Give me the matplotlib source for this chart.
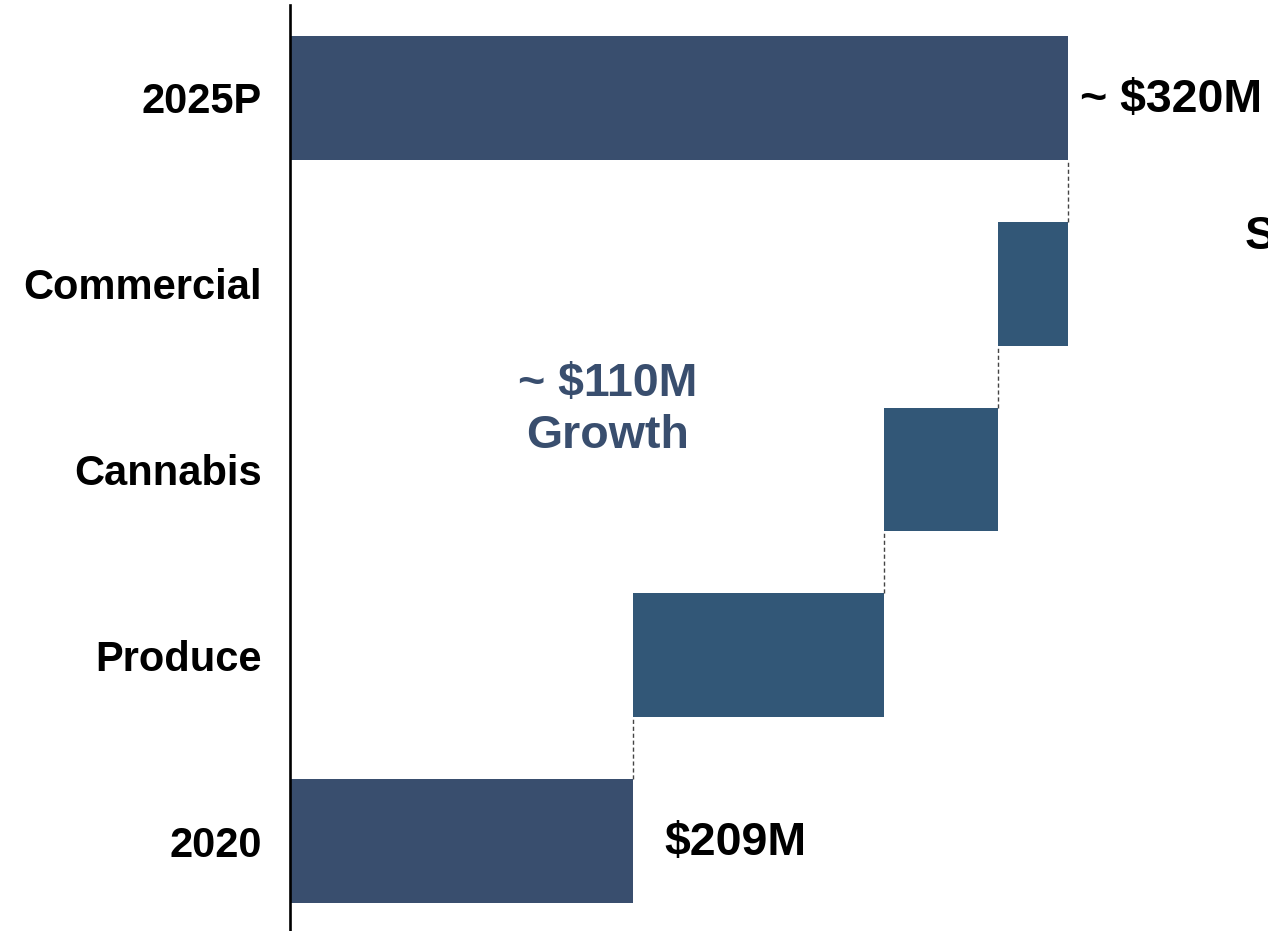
import matplotlib
matplotlib.use("Agg")
import matplotlib.pyplot as plt

plt.rcParams['font.family'] = ['Liberation Sans', 'DejaVu Sans']

# Revenue bridge, 2020 to 2025P ($M)
categories = ["2020", "Produce", "Cannabis", "Commercial", "2025P"]
start_value = 209
increments = [64, 29, 18]
end_value = 320
start_label = "$209M"
end_label = "~ $320M"
growth_label = "~ $110M\nGrowth"
side_label = "Segment growth"

total_color = "#394E6E"
step_color = "#325777"

fig = plt.figure(figsize=(12.68, 9.31), dpi=100)
W, H = 1268, 931
ax = fig.add_axes([290 / W, 0, 1 - 290 / W, (H - 5) / H])

x0 = 121.5
bar_h = 0.667

# totals
ax.barh(0, start_value - x0, left=x0, height=bar_h, color=total_color)
ax.barh(4, end_value - x0, left=x0, height=bar_h, color=total_color)

# increments
running = start_value
for i, inc in enumerate(increments, start=1):
    ax.barh(i, inc, left=running, height=bar_h, color=step_color)
    running += inc

# dashed connectors between consecutive bars
levels = [start_value]
for inc in increments:
    levels.append(levels[-1] + inc)
for i, lv in enumerate(levels):
    ax.plot([lv, lv], [i + bar_h / 2, i + 1 - bar_h / 2],
            color="#444444", lw=1.0, ls=(0, (3, 2)))

ax.set_xlim(x0, x0 + (W - 290) / 3.92)
ax.set_ylim(-0.484, 4.5)

for s in ["top", "right", "bottom"]:
    ax.spines[s].set_visible(False)
ax.spines["left"].set_linewidth(1.9)
ax.spines["left"].set_color("black")
ax.set_xticks([])
ax.set_yticks(range(len(categories)))
ax.set_yticklabels(categories, fontsize=30, fontweight="bold")
ax.tick_params(axis="y", length=0, pad=20.5)

ax.text(start_value + 8, -0.01, start_label, fontsize=33.5, fontweight="bold",
        va="center", ha="left")
ax.text(end_value + 3, 3.99, end_label, fontsize=33.5, fontweight="bold",
        va="center", ha="left", clip_on=False)
ax.text(202.5, 2.32, growth_label, fontsize=33.5, fontweight="bold",
        color=total_color, va="center", ha="center", linespacing=1.25)
ax.text(x0 + (1245 - 290) / 3.92, 3.25, side_label, fontsize=33.5,
        fontweight="bold", va="center", ha="left", clip_on=False)

fig.savefig("out.png", dpi=100)
